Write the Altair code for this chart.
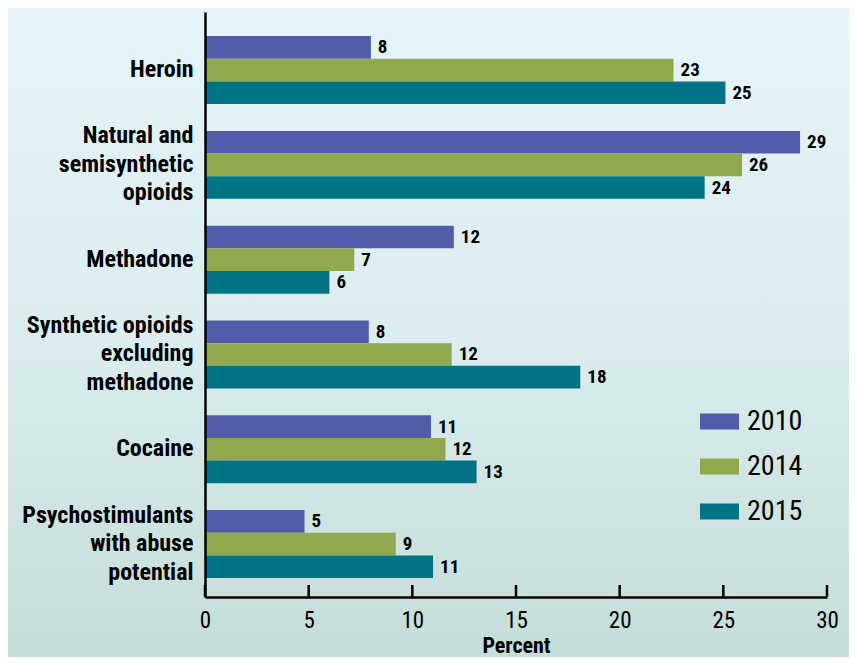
import altair as alt
import pandas as pd

categories = ["Heroin", "Natural and semisynthetic opioids", "Methadone",
              "Synthetic opioids excluding methadone", "Cocaine",
              "Psychostimulants with abuse potential"]
cat_labels = ["Heroin", "Natural and|semisynthetic|opioids", "Methadone",
              "Synthetic opioids|excluding|methadone", "Cocaine",
              "Psychostimulants|with abuse|potential"]
years = ["2010", "2014", "2015"]
v2010 = [8.0, 28.7, 12.0, 7.9, 10.9, 4.8]
v2014 = [22.6, 25.9, 7.2, 11.9, 11.6, 9.2]
v2015 = [25.1, 24.1, 6.0, 18.1, 13.1, 11.0]
lab2010 = ["8", "29", "12", "8", "11", "5"]
lab2014 = ["23", "26", "7", "12", "12", "9"]
lab2015 = ["25", "24", "6", "18", "13", "11"]
x_ticks = [0, 5, 10, 15, 20, 25, 30]
colors = ["#525CAA", "#8FA94C", "#007385"]

rows = []
for vals, labs, yr in [(v2010, lab2010, "2010"), (v2014, lab2014, "2014"), (v2015, lab2015, "2015")]:
    for c, cl, v, l in zip(categories, cat_labels, vals, labs):
        rows.append({"cat": cl, "year": yr, "value": v, "label": l})
df = pd.DataFrame(rows)
ticks_df = pd.DataFrame({"t": x_ticks})

FONT = "Liberation Sans Narrow, Roboto Condensed, DejaVu Sans Condensed, sans-serif"
W, H = 622, 585
LH = 28.5

y_enc = alt.Y("cat:N", sort=cat_labels,
              scale=alt.Scale(paddingInner=0.283, paddingOuter=0.227, align=0.56),
              axis=alt.Axis(title=None, ticks=False, labelExpr="split(datum.label, '|')",
                            labelFontSize=24, labelFont=FONT, labelFontWeight="bold",
                            labelColor="black", labelPadding=12, labelLineHeight=LH,
                            domainColor="black", domainWidth=2.5, labelLimit=300, zindex=1,
                            labelOffset={"expr": f"-(length(split(datum.value, '|')) - 1) * {LH / 2}"}))
x_scale = alt.Scale(domain=[0, 30], nice=False)
x_axis = alt.Axis(title="Percent", values=x_ticks, ticks=False, grid=False, labelFlush=False,
                  labelFontSize=23, labelFont=FONT, labelColor="black", labelPadding=12,
                  titleFontSize=22, titleFont=FONT, titleFontWeight="bold", titleColor="black",
                  titleBaseline="alphabetic", titleY=55,
                  domainColor="black", domainWidth=2.5, labelFontWeight="normal",
                  zindex=1)

bg = alt.Chart(pd.DataFrame({"a": [1]})).mark_rect(
    color=alt.Gradient(gradient="linear", x1=0, y1=0, x2=0, y2=1,
                       stops=[alt.GradientStop(color="#E5F4F8", offset=0),
                              alt.GradientStop(color="#DBEDEE", offset=0.5),
                              alt.GradientStop(color="#C5DDD8", offset=1)])
).encode(x=alt.value(-197), x2=alt.value(W + 22), y=alt.value(-4), y2=alt.value(H + 60))

bars = alt.Chart(df).mark_bar().encode(
    y=y_enc,
    yOffset=alt.YOffset("year:N", sort=years),
    x=alt.X("value:Q", scale=x_scale, axis=x_axis),
    color=alt.Color("year:N", sort=years, scale=alt.Scale(domain=years, range=colors),
                    legend=alt.Legend(title=None, orient="none", legendX=495, legendY=390,
                                      symbolType="M-1,-0.41H1V0.41H-1Z", symbolSize=1521,
                                      symbolStrokeWidth=0, labelFontSize=28, labelFont=FONT,
                                      labelFontWeight="normal", labelColor="black",
                                      labelOffset=8, rowPadding=11, zindex=1))
)

texts = alt.Chart(df).mark_text(align="left", baseline="middle", dx=7, fontSize=19,
                                font=FONT, fontWeight="bold", color="black").encode(
    y=alt.Y("cat:N", sort=cat_labels),
    yOffset=alt.YOffset("year:N", sort=years),
    x=alt.X("value:Q", scale=x_scale),
    text="label:N"
)

tick_marks = alt.Chart(ticks_df).mark_rule(color="black", strokeWidth=2.5).encode(
    x=alt.X("t:Q", scale=x_scale),
    y=alt.value(H - 12), y2=alt.value(H)
)

chart = alt.layer(bg, bars, texts, tick_marks).properties(
    width=W, height=H, autosize=alt.AutoSizeParams(type="none"),
    padding={"left": 197, "top": 4, "right": 22, "bottom": 60},
    background="#D8EBEC"
).configure_view(stroke=None)

chart.save("out.html", embed_options={"renderer": "svg", "actions": False})
